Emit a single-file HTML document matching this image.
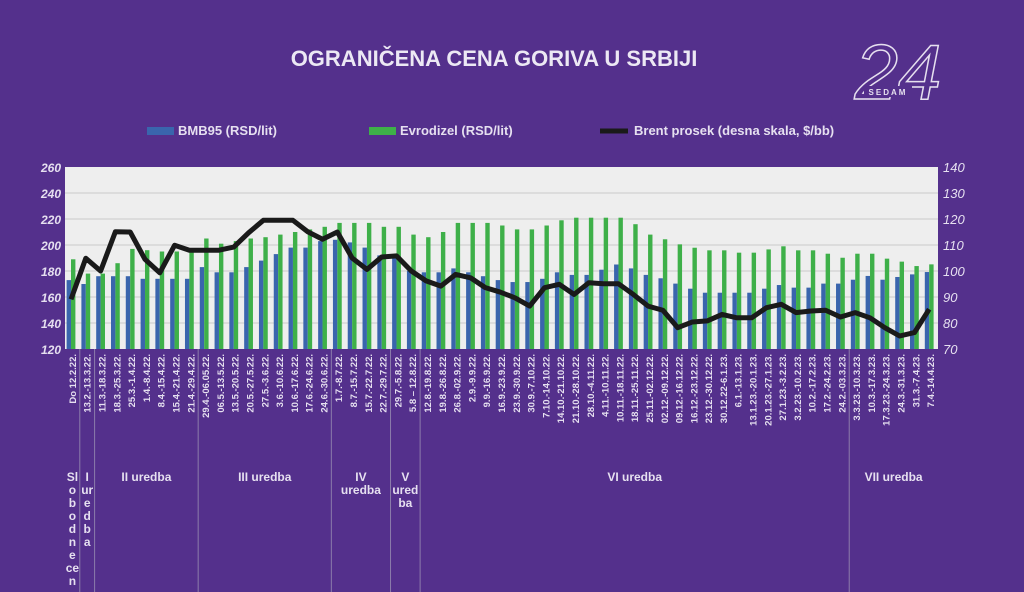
<!DOCTYPE html>
<html><head><meta charset="utf-8">
<style>
html,body{margin:0;padding:0;background:#54308c;}
svg{display:block;font-family:"Liberation Sans",sans-serif;}
</style></head>
<body>
<svg id="chart" width="1024" height="592" viewBox="0 0 1024 592" xmlns="http://www.w3.org/2000/svg">
<rect width="1024" height="592" fill="#54308c"/>
<text x="494" y="66" text-anchor="middle" font-size="22" font-weight="bold" fill="#ece8f4">OGRANIČENA CENA GORIVA U SRBIJI</text>
<g>
<text x="898" y="99" text-anchor="middle" font-size="78" font-style="italic" fill="none" stroke="#e6e0ef" stroke-width="1.5">24</text>
<rect x="864" y="86" width="48" height="11" fill="#54308c"/>
<text x="888" y="95" text-anchor="middle" font-size="8" font-weight="bold" fill="#e6e0ef" letter-spacing="2">SEDAM</text>
</g>
<g>
<rect x="147" y="127" width="27" height="8" fill="#3a65ad"/>
<text x="178" y="135" font-size="13" font-weight="bold" fill="#e6e0f0">BMB95 (RSD/lit)</text>
<rect x="369" y="127" width="27" height="8" fill="#3eb049"/>
<text x="400" y="135" font-size="13" font-weight="bold" fill="#e6e0f0">Evrodizel (RSD/lit)</text>
<line x1="600" y1="131" x2="628" y2="131" stroke="#1a1a1a" stroke-width="5"/>
<text x="634" y="135" font-size="13" font-weight="bold" fill="#e6e0f0">Brent prosek  (desna skala, $/bb)</text>
</g>
<rect x="65" y="167" width="873" height="182" fill="#eeeeee"/>
<g id="grid"></g><g id="bars"></g><g id="line"></g><g id="axes"></g><g id="groups"></g>
</svg>
<script>
const categories=["Do 12.2.22.","13.2.-13.3.22.","11.3.-18.3.22.","18.3.-25.3.22.","25.3.-1.4.22.","1.4.-8.4.22.","8.4.-15.4.22.","15.4.-21.4.22.","21.4.-29.4.22.","29.4.-06.05.22.","06.5.-13.5.22.","13.5.-20.5.22.","20.5.-27.5.22.","27.5.-3.6.22.","3.6.-10.6.22.","10.6.-17.6.22.","17.6.-24.6.22.","24.6.-30.6.22.","1.7.-8.7.22.","8.7.-15.7.22.","15.7.-22.7.22.","22.7.-29.7.22.","29.7.-5.8.22.","5.8 – 12.8.22.","12.8.-19.8.22.","19.8.-26.8.22.","26.8.-02.9.22.","2.9.-9.9.22.","9.9.-16.9.22.","16.9.-23.9.22.","23.9.-30.9.22.","30.9.-7.10.22.","7.10.-14.10.22.","14.10.-21.10.22.","21.10.-28.10.22.","28.10.-4.11.22.","4.11.-10.11.22.","10.11.-18.11.22.","18.11.-25.11.22.","25.11.-02.12.22.","02.12.-09.12.22.","09.12.-16.12.22.","16.12.-23.12.22.","23.12.-30.12.22.","30.12.22-6.1.23.","6.1.-13.1.23.","13.1.23.-20.1.23.","20.1.23.-27.1.23.","27.1.23.-3.2.23.","3.2.23.-10.2.23.","10.2.-17.2.23.","17.2.-24.2.23.","24.2.-03.3.23.","3.3.23.-10.3.23.","10.3.-17.3.23.","17.3.23.-24.3.23.","24.3.-31.3.23.","31.3.-7.4.23.","7.4.-14.4.23."];
const bmb95=[173,170,176,176,176,174,174,174,174,183,179,179,183,188,193,198,198,203,204,202,198,192,190,180,179,179,182,179,176,173,171.5,171.5,174,179,177,177,181,185,182,177,174.4,170.3,166.4,163.3,163.3,163.3,163.3,166.4,169.2,167.2,167.2,170.3,170.3,173.3,176.2,173.3,175.4,177.4,179.2];
const evrodizel=[189,178,178,186,197,196,195,195,195,205,201,203,205,206,208,210,212,214,217,217,217,214,214,208,206,210,217,217,217,215,212,212,215,219,221,221,221,221,216,208,204.4,200.5,197.9,195.9,195.9,194.1,194.1,196.6,199,195.9,195.9,193.3,190.2,193.3,193.3,189.5,187.2,183.8,185.1];
const brent=[89.1,104.9,100,115.1,115,104.5,99.3,109.9,108,108,108,109.2,114.7,119.5,119.5,119.5,115.1,112.2,115,105,100.6,105.4,105.8,100,96.2,94.2,98.7,97.4,93.6,91.9,89.7,86.5,93.6,94.9,91,95.5,95.1,95.1,91,86.5,84.9,78.2,80.4,80.8,83.3,82,82,85.9,87.2,84,84.6,84.9,82.3,84,82,78.2,75,76.3,85.3];
const leftTicks=[120,140,160,180,200,220,240,260];
const rightTicks=[70,80,90,100,110,120,130,140];
const groupBreaks=[1,2,9,18,22,24,53];
const groupLabels=[["Sl","o","b","o","d","n","e","ce","n"],["I","ur","e","d","b","a"],["II uredba"],["III uredba"],["IV","uredba"],["V","ured","ba"],["VI uredba"],["VII uredba"]];

const NS="http://www.w3.org/2000/svg";
const PL=65,PR=938,PT=167,PB=349;
const n=categories.length, cw=(PR-PL)/n;
const yL=v=>PB-(v-120)/(260-120)*(PB-PT);
const yR=v=>PB-(v-70)/(140-70)*(PB-PT);
const xC=i=>PL+i*cw;
function mk(tag,attrs,parent){const e=document.createElementNS(NS,tag);for(const k in attrs)e.setAttribute(k,attrs[k]);parent.appendChild(e);return e;}
const G=id=>document.getElementById(id);

leftTicks.forEach((t,i)=>{
  if(i>0&&i<leftTicks.length-1){const g=mk('line',{x1:PL,x2:PR,y1:yL(t),y2:yL(t),stroke:'#d2d2d2','stroke-width':1.2},G('grid'));
  
  }
  const tx=mk('text',{x:61,y:yL(t)+5,'text-anchor':'end','font-size':12,'font-weight':'bold','font-style':'italic',fill:'#e6e0f0'},G('axes'));
  tx.textContent=t;
  
  
});
rightTicks.forEach(t=>{
  const tx=mk('text',{x:943,y:yR(t)+5,'font-size':13,'font-style':'italic',fill:'#e6e0f0'},G('axes'));
  tx.textContent=t;
  
  
});
categories.forEach((c,i)=>{
  const x0=xC(i);
  const b=mk('rect',{x:x0+1.6,y:yL(bmb95[i]),width:4.4,height:PB-yL(bmb95[i]),fill:'#3a65ad'},G('bars'));
  
  
  const g=mk('rect',{x:x0+6,y:yL(evrodizel[i]),width:4.4,height:PB-yL(evrodizel[i]),fill:'#3eb049'},G('bars'));
  
  
  const lx=x0+cw/2+3.5;
  const t=mk('text',{x:0,y:0,transform:`translate(${lx},354) rotate(-90)`,'text-anchor':'end','font-size':9.5,'font-weight':'bold',fill:'#e6e0f0'},G('axes'));
  t.textContent=c;
  
  
});
const pts=brent.map((v,i)=>`${xC(i)+6},${yR(v)}`).join(' ');
const pl=mk('polyline',{points:pts,fill:'none',stroke:'#1a1a1a','stroke-width':5,'stroke-linejoin':'round'},G('line'));



const bounds=[0,...groupBreaks,n];
groupBreaks.forEach(k=>{
  const l=mk('line',{x1:xC(k),x2:xC(k),y1:PB,y2:592,stroke:'#8c7cab','stroke-width':1},G('groups'));
  
  
});
groupLabels.forEach((lines,j)=>{
  const cx=(xC(bounds[j])+xC(bounds[j+1]))/2;
  const t=mk('text',{x:cx,y:481,'text-anchor':'middle','font-size':12,'font-weight':'bold',fill:'#e6e0f0'},G('groups'));
  
  
  lines.forEach((s,k)=>{const ts=mk('tspan',{x:cx,dy:k?13:0},t);ts.textContent=s;});
});
</script>
</body></html>
